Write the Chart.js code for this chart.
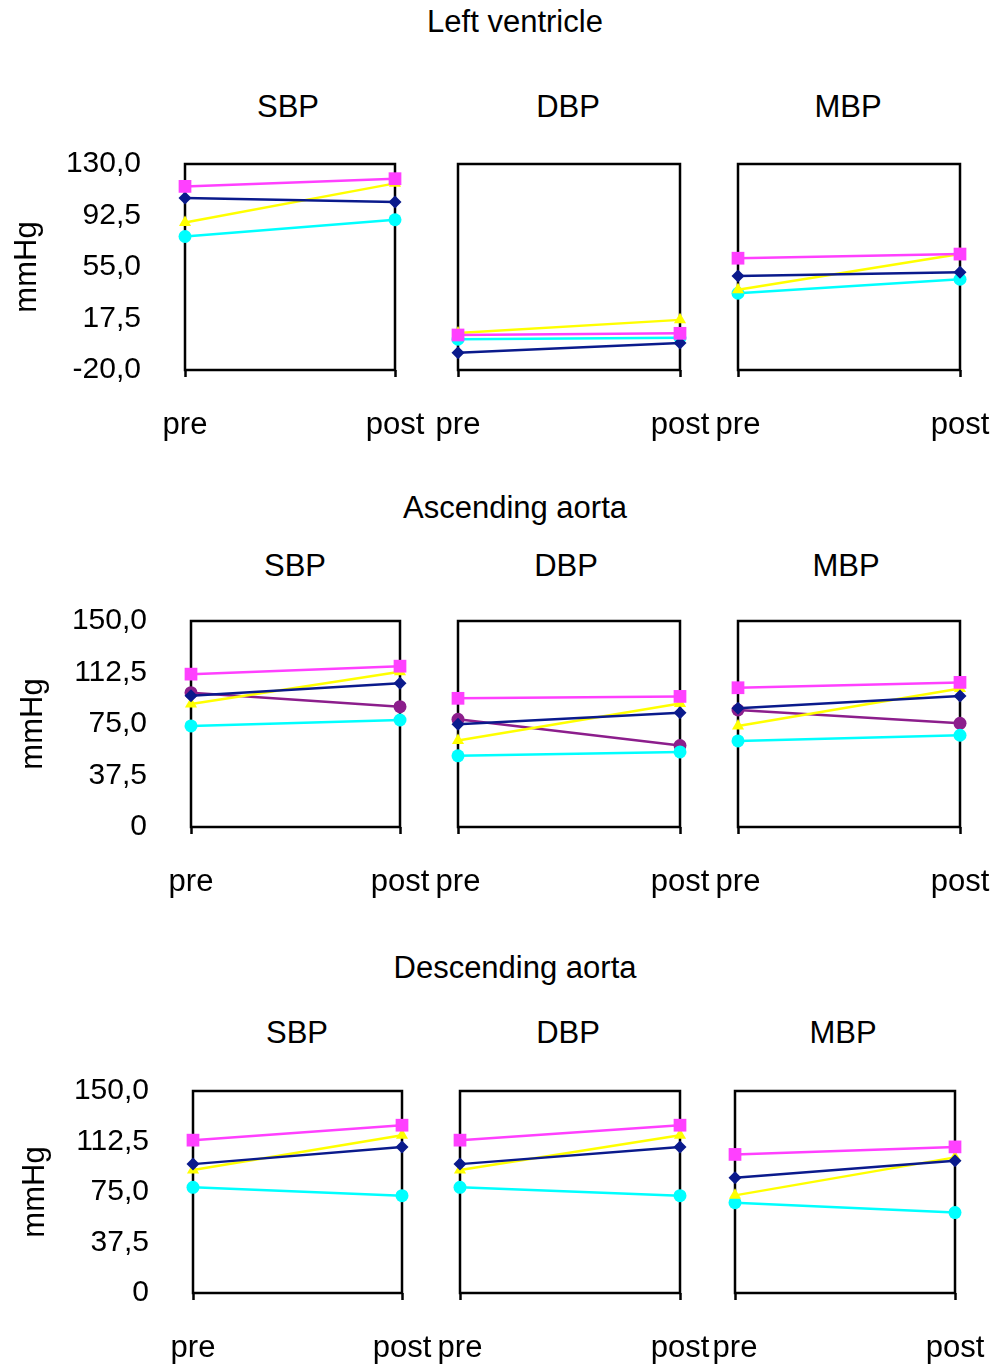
<!DOCTYPE html>
<html>
<head>
<meta charset="utf-8">
<title>Pressure pre / post</title>
<script src="https://cdn.jsdelivr.net/npm/chart.js@4.4.1/dist/chart.umd.min.js"></script>
<style>
  body { margin: 0; background: #fff; }
  #page { position: relative; width: 995px; height: 1367px; font-family: "Liberation Sans", Arial, sans-serif; color: #000; }
  #page canvas { position: absolute; }
  .lbl { position: absolute; font-size: 31px; transform: translate(-50%, -50%); white-space: nowrap; }
</style>
</head>
<body>
<div id="page"></div>
<script>
// ==== DATA ====
const categories = ['pre', 'post'];
const panelNames = ['SBP', 'DBP', 'MBP'];
const sectionTitles = ['Left ventricle', 'Ascending aorta', 'Descending aorta'];

// tick labels of the y axis
const lvTicks = [-20, 17.5, 55, 92.5, 130];
const aortaTicks = [0, 37.5, 75, 112.5, 150];

// values: SBP pre, SBP post, DBP pre, DBP post, MBP pre, MBP post
const lvMagenta = [113.7, 119.3, 5.5, 6.7, 61.4, 64.4];
const lvNavy    = [105.2, 102.3, -7.4, -0.3, 48.5, 51.2];
const lvYellow  = [87.4, 115.9, 7.0, 16.5, 38.5, 64.5];
const lvCyan    = [77.2, 89.4, 2.4, 3.5, 35.9, 46.1];

const ascMagenta = [111.3, 117.1, 93.7, 95.1, 101.4, 105.3];
const ascNavy    = [95.6, 104.6, 74.8, 83.2, 86.4, 95.4];
const ascYellow  = [89.5, 113.0, 63.0, 90.0, 73.5, 100.9];
const ascCyan    = [73.6, 77.9, 51.8, 54.7, 62.7, 66.8];
const ascPurple  = [97.8, 87.6, 78.4, 59.3, 85.2, 75.5];

const descMagenta = [113.5, 124.6, 113.5, 124.6, 102.9, 108.5];
const descNavy    = [95.7, 108.5, 95.7, 108.5, 85.6, 98.2];
const descYellow  = [91.3, 117.2, 91.3, 117.2, 72.5, 100.7];
const descCyan    = [78.5, 72.3, 78.5, 72.3, 67.1, 59.7];

// ==== STYLES / LAYOUT ====
const FONT = '"Liberation Sans", Arial, sans-serif';
const styles = {
    magenta: { color: '#ff40ff', pointStyle: 'rect', radius: 9 },
    navy:    { color: '#0a1a8c', pointStyle: 'rectRot', radius: 6.5 },
    yellow:  { color: '#ffff00', pointStyle: 'triangle', radius: 7 },
    cyan:    { color: '#00ffff', pointStyle: 'circle', radius: 6.5 },
    purple:  { color: '#8c1e8c', pointStyle: 'circle', radius: 6.5 }
};

const rows = [
    {
        title: sectionTitles[0], titleY: 22, subY: 107, top: 164, bottom: 370,
        boxes: [[185, 395], [458, 680], [738, 960]], subX: [288, 568, 848],
        ticks: lvTicks,
        series: [['magenta', lvMagenta], ['navy', lvNavy], ['yellow', lvYellow], ['cyan', lvCyan]]
    },
    {
        title: sectionTitles[1], titleY: 508, subY: 566, top: 621, bottom: 827,
        boxes: [[191, 400], [458, 680], [738, 960]], subX: [295, 566, 846],
        ticks: aortaTicks,
        series: [['magenta', ascMagenta], ['navy', ascNavy], ['yellow', ascYellow], ['cyan', ascCyan], ['purple', ascPurple]]
    },
    {
        title: sectionTitles[2], titleY: 968, subY: 1033, top: 1091, bottom: 1293,
        boxes: [[193, 402], [460, 680], [735, 955]], subX: [297, 568, 843],
        ticks: aortaTicks,
        series: [['magenta', descMagenta], ['navy', descNavy], ['yellow', descYellow], ['cyan', descCyan]]
    }
];

const page = document.getElementById('page');

function addLabel(text, x, y) {
    const d = document.createElement('div');
    d.className = 'lbl';
    d.textContent = text;
    d.style.left = x + 'px';
    d.style.top = y + 'px';
    page.appendChild(d);
}

function fmtTick(v) {
    return v === 0 ? '0' : v.toFixed(1).replace('.', ',');
}

// black frame round the plot area
const framePlugin = {
    id: 'frame',
    beforeDatasetsDraw(chart) {
        const a = chart.chartArea;
        const ctx = chart.ctx;
        ctx.save();
        ctx.strokeStyle = '#000';
        ctx.lineWidth = 2.5;
        ctx.strokeRect(a.left, a.top, a.right - a.left, a.bottom - a.top);
        ctx.restore();
    }
};

function makePanel(row, col) {
    const [boxL, boxR] = row.boxes[col];
    const L = col === 0 ? 185 : 40, T = 20, R = 45, B = 80;
    const w = L + (boxR - boxL) + R;
    const h = T + (row.bottom - row.top) + B;

    const canvas = document.createElement('canvas');
    canvas.width = w;
    canvas.height = h;
    canvas.style.left = (boxL - L) + 'px';
    canvas.style.top = (row.top - T) + 'px';
    page.appendChild(canvas);

    const datasets = row.series.map(([key, values]) => {
        const s = styles[key];
        return {
            data: values.slice(col * 2, col * 2 + 2),
            borderColor: s.color,
            backgroundColor: s.color,
            borderWidth: 2.5,
            pointStyle: s.pointStyle,
            pointRadius: s.radius,
            pointBorderWidth: 0,
            tension: 0,
            clip: false
        };
    });

    const ticks = row.ticks;
    const yScale = {
        display: col === 0,
        min: ticks[0],
        max: ticks[ticks.length - 1],
        afterBuildTicks: s => { s.ticks = ticks.map(v => ({ value: v })); },
        border: { display: false },
        grid: { display: false, drawTicks: false },
        title: { display: true, text: 'mmHg', color: '#000', padding: { top: 9, bottom: 0 }, font: { family: FONT, size: 31 } },
        ticks: { color: '#000', padding: 44, callback: v => fmtTick(v), font: { family: FONT, size: 30 } }
    };
    if (col === 0) {
        // fixed width, no extra space for the top/bottom labels
        yScale.afterFit = s => { s.width = L; s.paddingTop = 0; s.paddingBottom = 0; };
    }

    new Chart(canvas, {
        type: 'line',
        data: { labels: categories, datasets: datasets },
        plugins: [framePlugin],
        options: {
            responsive: false,
            animation: false,
            devicePixelRatio: 1,
            layout: { padding: { top: T, right: R, bottom: 0, left: col === 0 ? 0 : L } },
            plugins: { legend: { display: false }, tooltip: { enabled: false } },
            scales: {
                x: {
                    offset: false,
                    afterFit: s => { s.height = B; s.paddingLeft = 0; s.paddingRight = 0; },
                    border: { display: false },
                    grid: { drawOnChartArea: false, drawTicks: true, tickLength: 7, tickColor: '#000', tickWidth: 2.5 },
                    ticks: { color: '#000', padding: 30, maxRotation: 0, font: { family: FONT, size: 31 } }
                },
                y: yScale
            }
        }
    });
}

// ==== INIT ====
rows.forEach(row => {
    addLabel(row.title, 515, row.titleY);
    panelNames.forEach((name, col) => {
        addLabel(name, row.subX[col], row.subY);
        makePanel(row, col);
    });
});
</script>
</body>
</html>
